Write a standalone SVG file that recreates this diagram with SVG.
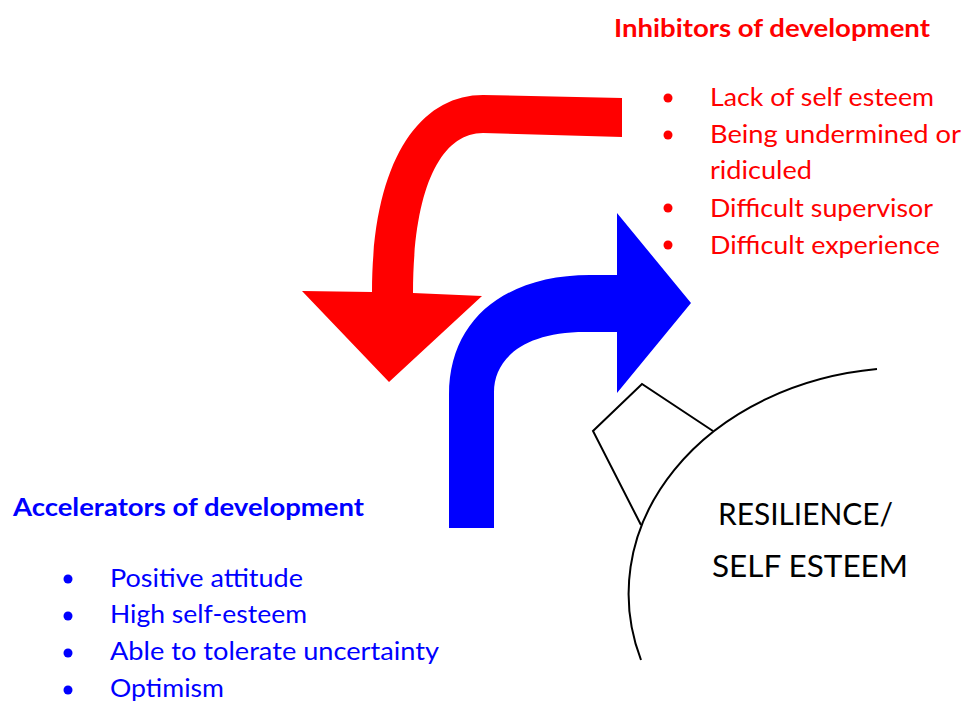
<svg xmlns="http://www.w3.org/2000/svg" width="964" height="705" viewBox="0 0 964 705">
<style>
text { font-family: Lato, "Open Sans", "Liberation Sans", sans-serif; }
.red { fill: #FF0000; }
.blue { fill: #0000FF; }
.head { font-size: 25px; font-weight: bold; }
.item { font-size: 25px; }
.big { font-size: 31px; fill: #000000; }
.outline { fill: none; stroke: #000000; stroke-width: 2; stroke-linejoin: miter; }
</style>
<rect width="964" height="705" fill="#FFFFFF"/>
<g id="connectors">
  <path id="inhibit-arrow" class="red" d="M622,98 L483,95 C420,95 372,160 372,292 L302,291 L389,382 L482,296 L413,293 C413,190 440,133 483,133 L622,137 Z"/>
  <path id="accel-arrow" class="blue" d="M449,528 L449,395 C449,318 507,275 590,275 L617,275 L617,213 L691,303 L617,393 L617,332 L585,332 C522,332 494,360 494,392 L494,528 Z"/>
</g>
<g id="resilience">
  <path class="outline" d="M877,369 A280,226 0 0 0 641,660"/>
  <path class="outline" d="M713,431 L642,384 L593,431 L641,525"/>
  <text class="big" x="718" y="525" textLength="175" lengthAdjust="spacingAndGlyphs">RESILIENCE/</text>
  <text class="big" x="712" y="577" textLength="196" lengthAdjust="spacingAndGlyphs">SELF ESTEEM</text>
</g>
<g id="inhibitors">
  <text class="red head" x="614" y="37" textLength="316" lengthAdjust="spacingAndGlyphs">Inhibitors of development</text>
  <circle class="red" cx="668" cy="98" r="4.5"/>
  <circle class="red" cx="668" cy="135" r="4.5"/>
  <circle class="red" cx="668" cy="208" r="4.5"/>
  <circle class="red" cx="668" cy="245" r="4.5"/>
  <text class="red item" x="710" y="106" textLength="224" lengthAdjust="spacingAndGlyphs">Lack of self esteem</text>
  <text class="red item" x="710" y="143" textLength="251" lengthAdjust="spacingAndGlyphs">Being undermined or</text>
  <text class="red item" x="710" y="179" textLength="102" lengthAdjust="spacingAndGlyphs">ridiculed</text>
  <text class="red item" x="710" y="217" textLength="223" lengthAdjust="spacingAndGlyphs">Difficult supervisor</text>
  <text class="red item" x="710" y="254" textLength="230" lengthAdjust="spacingAndGlyphs">Difficult experience</text>
</g>
<g id="accelerators">
  <text class="blue head" x="13" y="516" textLength="351" lengthAdjust="spacingAndGlyphs">Accelerators of development</text>
  <circle class="blue" cx="68" cy="579" r="4.5"/>
  <circle class="blue" cx="68" cy="616" r="4.5"/>
  <circle class="blue" cx="68" cy="653" r="4.5"/>
  <circle class="blue" cx="68" cy="690" r="4.5"/>
  <text class="blue item" x="110" y="587" textLength="193" lengthAdjust="spacingAndGlyphs">Positive attitude</text>
  <text class="blue item" x="110" y="623" textLength="197" lengthAdjust="spacingAndGlyphs">High self-esteem</text>
  <text class="blue item" x="110" y="660" textLength="329" lengthAdjust="spacingAndGlyphs">Able to tolerate uncertainty</text>
  <text class="blue item" x="110" y="697" textLength="114" lengthAdjust="spacingAndGlyphs">Optimism</text>
</g>
</svg>
